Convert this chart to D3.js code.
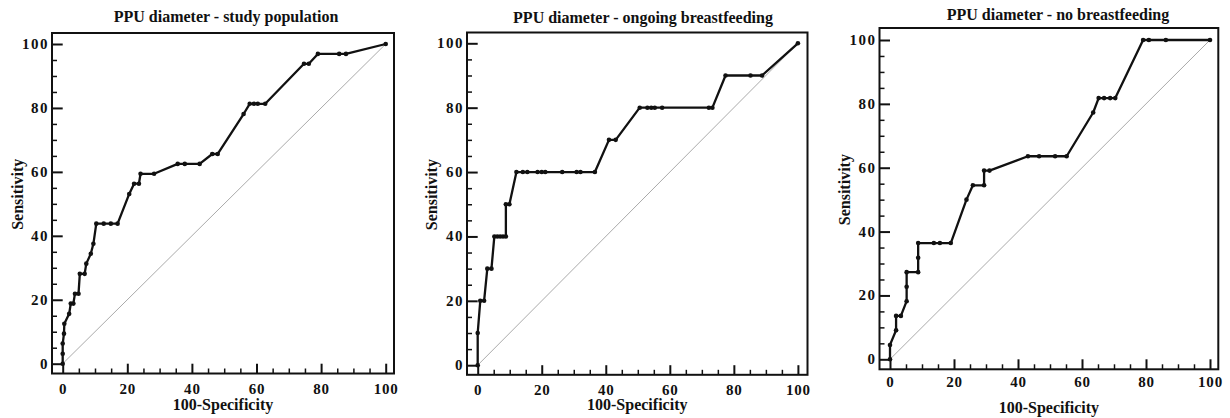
<!DOCTYPE html>
<html><head><meta charset="utf-8">
<script src="https://cdn.jsdelivr.net/npm/d3@7"></script>
<style>
body{margin:0;background:#fff;}
svg text{font-family:"Liberation Serif","DejaVu Serif","Times New Roman",serif;font-weight:700;fill:#111;}
</style></head>
<body><svg id="chart" width="1230" height="418"></svg>
<script>
// ---- data ----
const titles = ["PPU diameter - study population", "PPU diameter - ongoing breastfeeding", "PPU diameter - no breastfeeding"];
const xLabel = "100-Specificity";
const yLabel = "Sensitivity";
const tickValues = [0, 20, 40, 60, 80, 100];

const studyX = [0,0,0,0.4,0.5,2.0,2.5,3.3,3.8,4.9,5.3,6.8,7.3,8.7,9.5,10.4,12.7,14.9,17.0,20.6,22.1,23.6,24.1,28.3,35.6,37.8,42.4,46.3,48.0,56.0,57.9,59.2,60.4,62.7,74.7,76.2,79.0,85.6,87.7,100];
const studyY = [0,3.1,6.3,9.4,12.5,15.6,18.8,18.8,21.9,21.9,28.1,28.1,31.3,34.4,37.5,43.8,43.8,43.8,43.8,53.1,56.3,56.3,59.4,59.4,62.5,62.5,62.5,65.6,65.6,78.1,81.3,81.3,81.3,81.3,93.8,93.8,96.9,96.9,96.9,100];

const ongoingX = [0,0,0.8,2.0,3.0,4.3,5.2,6.1,7.0,7.9,8.8,8.8,9.9,12.1,14.1,15.5,18.7,20.0,21.1,26.4,30.9,32.1,36.6,41.0,43.1,50.6,53.0,54.2,55.3,57.6,72.2,73.3,77.4,85.2,88.8,100];
const ongoingY = [0,10,20,20,30,30,40,40,40,40,40,50,50,60,60,60,60,60,60,60,60,60,60,70,70,80,80,80,80,80,80,80,90,90,90,100];

const noneX = [0,0,1.9,1.9,3.4,5.2,5.2,5.2,8.8,8.8,8.8,13.7,15.6,19.0,23.9,25.9,29.4,29.4,31.1,43.1,46.6,51.6,55.2,63.5,65.2,66.9,68.8,70.4,79.1,80.9,86.2,100];
const noneY = [0,4.5,9.1,13.6,13.6,18.2,22.7,27.3,27.3,31.8,36.4,36.4,36.4,36.4,50.0,54.5,54.5,59.1,59.1,63.6,63.6,63.6,63.6,77.3,81.8,81.8,81.8,81.8,100,100,100,100];

// ---- layout (positions only) ----
const panels = [
  {xs: studyX, ys: studyY, x0: 62.7, x1: 385.7, y0: 363.7, y1: 44.0, fl: 52, fr: 394, ft: 33, fb: 373.5, titleX: 226, titleY: 22, xlabY: 410, ylabX: 23, tickY: 394},
  {xs: ongoingX, ys: ongoingY, x0: 477.7, x1: 797.9, y0: 365.2, y1: 43.3, fl: 467, fr: 807.5, ft: 32.5, fb: 374.8, titleX: 643, titleY: 23, xlabY: 410, ylabX: 437, tickY: 395},
  {xs: noneX, ys: noneY, x0: 890.0, x1: 1210.0, y0: 359.3, y1: 40.0, fl: 879.5, fr: 1218.3, ft: 28, fb: 369.3, titleX: 1058, titleY: 20, xlabY: 413, ylabX: 850, tickY: 387}
];

const svg = d3.select("#chart");

panels.forEach((p, i) => {
  const x = d3.scaleLinear().domain([0, 100]).range([p.x0, p.x1]);
  const y = d3.scaleLinear().domain([0, 100]).range([p.y0, p.y1]);
  const g = svg.append("g");

  const minor = d3.range(0, 101, 5).filter(v => v % 20 !== 0);
  const yAxis = d3.axisRight(y).tickValues(tickValues).tickSize(p.x0 - p.fl).tickFormat("");
  const yAxisMinor = d3.axisRight(y).tickValues(minor).tickSize(5).tickFormat("");
  const xAxis = d3.axisTop(x).tickValues(tickValues).tickSize(p.fb - p.y0).tickFormat("");
  const xAxisMinor = d3.axisTop(x).tickValues(minor).tickSize(5).tickFormat("");
  [[yAxis, `translate(${p.fl},0)`, 2], [yAxisMinor, `translate(${p.fl},0)`, 1.5],
   [xAxis, `translate(0,${p.fb})`, 2], [xAxisMinor, `translate(0,${p.fb})`, 1.5]].forEach(([ax, tr, w]) => {
    const a = g.append("g").attr("transform", tr).call(ax);
    a.select(".domain").remove();
    a.selectAll("line").attr("stroke", "#111").attr("stroke-width", w);
  });

  g.selectAll(".yl").data(tickValues).join("text")
    .attr("x", p.fl - 3).attr("y", d => y(d) + 5)
    .attr("text-anchor", "end").style("font-size", "15px").style("letter-spacing", "1.5px")
    .text(d => d);
  g.selectAll(".xl").data(tickValues).join("text")
    .attr("x", d => x(d) + 0.5).attr("y", p.tickY)
    .attr("text-anchor", "middle").style("font-size", "15px").style("letter-spacing", "0.8px")
    .text(d => d);

  g.append("line").attr("x1", x(0)).attr("y1", y(0)).attr("x2", x(100)).attr("y2", y(100))
    .attr("stroke", "#aaa").attr("stroke-width", 1);

  const pts = p.xs.map((v, k) => [v, p.ys[k]]);
  g.append("path").datum(pts)
    .attr("d", d3.line().x(d => x(d[0])).y(d => y(d[1])))
    .attr("fill", "none").attr("stroke", "#111").attr("stroke-width", 2.3).attr("stroke-linejoin", "round");
  g.selectAll("circle").data(pts).join("circle")
    .attr("cx", d => x(d[0])).attr("cy", d => y(d[1])).attr("r", 2.3).attr("fill", "#111");

  g.append("rect").attr("x", p.fl).attr("y", p.ft).attr("width", p.fr - p.fl).attr("height", p.fb - p.ft)
    .attr("fill", "none").attr("stroke", "#111").attr("stroke-width", 2);

  g.append("text").attr("x", p.titleX).attr("y", p.titleY).attr("text-anchor", "middle")
    .style("font-size", "16px").text(titles[i]);
  g.append("text").attr("x", (p.fl + p.fr) / 2).attr("y", p.xlabY).attr("text-anchor", "middle")
    .style("font-size", "16px").text(xLabel);
  g.append("text").attr("transform", `translate(${p.ylabX},${(p.ft + p.fb) / 2 - 9}) rotate(-90)`)
    .attr("text-anchor", "middle").style("font-size", "16px").text(yLabel);
});
</script></body></html>
